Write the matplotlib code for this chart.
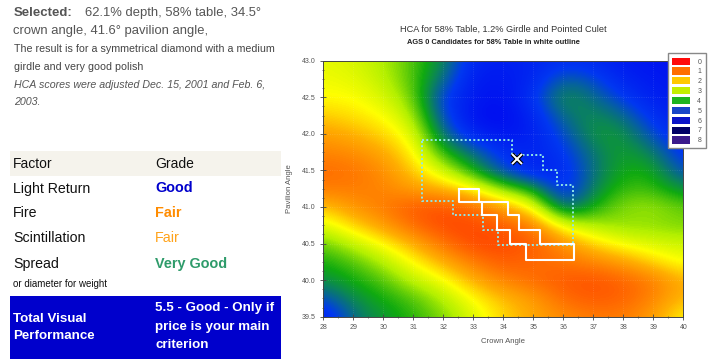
import numpy as np
import matplotlib.pyplot as plt
from matplotlib.colors import LinearSegmentedColormap
from matplotlib.patches import Patch, Rectangle

plt.rcParams['font.family'] = ['Liberation Sans', 'DejaVu Sans']

W, H = 713, 362

# Datos del panel izquierdo
selected_line1 = "62.1% depth, 58% table, 34.5°"
selected_line2 = "crown angle, 41.6° pavilion angle,"
note_lines = ["The result is for a symmetrical diamond with a medium",
              "girdle and very good polish"]
italic_lines = ["HCA scores were adjusted Dec. 15, 2001 and Feb. 6,", "2003."]
factors = ["Light Return", "Fire", "Scintillation", "Spread"]
grades = ["Good", "Fair", "Fair", "Very Good"]
grade_colors = ["#0000CC", "#FF8C00", "#FFA31A", "#2E9B6A"]
grade_weights = ["bold", "bold", "normal", "bold"]
total_label = ["Total Visual", "Performance"]
total_value = ["5.5 - Good - Only if", "price is your main", "criterion"]

# Malla HCA: angulo de corona (columnas) y de pabellon (filas, de 43.0 a 39.5)
crown = np.arange(28, 41, 1)
pavilion = np.arange(43.0, 39.49, -0.25)
hca = np.array([
    [2.8, 2.9, 3.2, 3.7, 4.3, 5.6, 5.7, 5.6, 5.4, 5.5, 5.8, 5.9, 6.0],
    [2.7, 2.8, 3.1, 3.7, 4.6, 5.8, 5.8, 5.6, 4.7, 5.0, 5.6, 5.8, 5.9],
    [2.6, 2.6, 2.9, 3.5, 5.2, 5.8, 6.0, 5.3, 4.2, 4.6, 5.2, 5.7, 5.8],
    [2.2, 2.4, 2.6, 3.2, 5.0, 6.0, 6.1, 5.6, 4.6, 4.3, 4.6, 5.4, 5.7],
    [1.8, 2.0, 2.3, 2.8, 4.6, 5.6, 5.9, 5.7, 5.0, 4.2, 4.2, 5.0, 5.6],
    [1.5, 1.6, 1.9, 2.5, 3.9, 4.6, 5.4, 5.6, 5.3, 4.5, 4.1, 4.4, 5.4],
    [1.2, 1.3, 1.6, 2.2, 3.0, 4.0, 5.0, 5.7, 5.5, 4.6, 4.0, 4.0, 5.0],
    [1.4, 1.4, 1.5, 1.8, 2.0, 2.5, 3.5, 4.0, 5.6, 4.4, 3.8, 3.8, 4.3],
    [2.2, 1.7, 1.4, 1.0, 0.9, 1.2, 1.8, 2.6, 4.8, 4.0, 3.4, 3.3, 3.6],
    [2.9, 2.3, 1.8, 1.2, 0.8, 0.8, 1.0, 1.4, 2.8, 3.2, 3.4, 3.4, 3.5],
    [3.6, 3.1, 2.6, 2.0, 1.3, 0.8, 0.8, 1.0, 1.6, 2.3, 2.7, 2.9, 3.0],
    [4.0, 3.7, 3.2, 2.6, 2.0, 1.4, 1.0, 1.2, 1.3, 1.5, 1.8, 2.3, 2.7],
    [4.3, 4.0, 3.7, 3.1, 2.7, 2.0, 1.5, 1.2, 1.0, 0.9, 1.1, 1.4, 2.0],
    [5.0, 4.3, 4.0, 3.7, 3.2, 2.6, 2.1, 1.8, 1.2, 1.0, 1.1, 1.5, 2.1],
    [5.8, 4.6, 4.2, 3.9, 3.5, 2.9, 2.3, 1.9, 1.6, 1.4, 1.4, 1.8, 2.6],
])

# Contorno blanco (candidatos AGS 0)
white_c = [32.53, 33.19, 33.19, 34.17, 34.17, 34.53, 34.53, 35.22, 35.22, 36.36,
           36.36, 34.76, 34.76, 34.22, 34.22, 33.78, 33.78, 33.28, 33.28, 32.53, 32.53]
white_p = [41.25, 41.25, 41.07, 41.07, 40.89, 40.89, 40.69, 40.69, 40.49, 40.49,
           40.28, 40.28, 40.49, 40.49, 40.69, 40.69, 40.89, 40.89, 41.07, 41.07, 41.25]
# Contorno punteado
dot_c = [31.3, 34.3, 34.3, 35.31, 35.31, 35.78, 35.78, 36.31, 36.31, 33.83,
         33.83, 33.31, 33.31, 32.31, 32.31, 31.3, 31.3]
dot_p = [41.92, 41.92, 41.71, 41.71, 41.50, 41.50, 41.30, 41.30, 40.48, 40.48,
         40.69, 40.69, 40.89, 40.89, 41.08, 41.08, 41.92]
sel_crown, sel_pav = 34.45, 41.65

legend_labels = [str(i) for i in range(9)]
legend_colors = ["#FF0A0A", "#FF6E00", "#FFC800", "#C4EE00", "#1EB41E",
                 "#1846C8", "#0A14C8", "#000066", "#3A1A8C"]

# Escala de color continua
nodes = [(0.0, "#FF0000"), (1.0, "#FF5A00"), (2.0, "#FFB000"), (2.6, "#FFFF00"),
         (3.2, "#B4F000"), (4.0, "#10AA10"), (4.6, "#087080"), (5.2, "#0038F0"),
         (6.0, "#0010F0"), (7.0, "#000070"), (8.0, "#40108C")]
cmap = LinearSegmentedColormap.from_list("hca", [(v / 8, c) for v, c in nodes])


def fx(x):
    return x / W


def fy(y):
    return 1 - y / H


fig = plt.figure(figsize=(W / 100, H / 100), dpi=100)

# Panel de texto
fig.text(fx(14), fy(13), "Selected:", fontsize=9.5, fontweight='bold', color='#555555', va='center')
fig.text(fx(85), fy(13), selected_line1, fontsize=9.4, color='#555555', va='center')
fig.text(fx(13), fy(31), selected_line2, fontsize=9.4, color='#555555', va='center')
for i, s in enumerate(note_lines):
    fig.text(fx(14), fy(48.5 + i * 19), s, fontsize=7.7, color='#444444', va='center')
for i, s in enumerate(italic_lines):
    fig.text(fx(14), fy(85 + i * 17), s, fontsize=7.7, color='#555555', style='italic', va='center')

fig.add_artist(Rectangle((fx(10), fy(176)), fx(271), 25 / H, transform=fig.transFigure,
                         facecolor='#F5F3EC', edgecolor='none'))
fig.text(fx(13), fy(163.5), "Factor", fontsize=10, color='#111111', va='center')
fig.text(fx(155), fy(163.5), "Grade", fontsize=10, color='#111111', va='center')
row_y = [188.5, 213, 238.5, 264]
for i in range(len(factors)):
    fig.text(fx(13), fy(row_y[i]), factors[i], fontsize=10.2, color='#111111', va='center')
    fig.text(fx(155), fy(row_y[i]), grades[i], fontsize=10.4, color=grade_colors[i],
             fontweight=grade_weights[i], va='center')
fig.text(fx(13), fy(284), "or diameter for weight", fontsize=7, color='#111111', va='center')

fig.add_artist(Rectangle((fx(10), fy(359)), fx(271), 63 / H, transform=fig.transFigure,
                         facecolor='#0000CC', edgecolor='none'))
for i, s in enumerate(total_label):
    fig.text(fx(13), fy(318.5 + i * 17.5), s, fontsize=9.6, color='white', fontweight='bold', va='center')
for i, s in enumerate(total_value):
    fig.text(fx(155), fy(308.5 + i * 18.5), s, fontsize=9.6, color='white', fontweight='bold', va='center')

# Mapa HCA
ax = fig.add_axes([fx(323.3), fy(316.7), 360 / W, 256 / H])
ax.imshow(hca, cmap=cmap, vmin=0, vmax=8, interpolation='bicubic', aspect='auto',
          extent=[crown[0] - 0.5, crown[-1] + 0.5, pavilion[-1] - 0.125, pavilion[0] + 0.125])
ax.plot(dot_c, dot_p, color='#8FE6E6', lw=1.4, ls=(0, (1, 1.2)))
ax.plot(white_c, white_p, color='white', lw=1.5)
ax.plot(sel_crown, sel_pav, marker='x', ms=7, mew=3, color='black')
ax.plot(sel_crown, sel_pav, marker='x', ms=7, mew=1.4, color='white')
ax.set_xlim(28, 40)
ax.set_ylim(39.5, 43.0)
ax.set_xticks(np.arange(28, 41, 1))
ax.set_xticks(np.arange(28, 40.1, 0.5), minor=True)
ax.set_yticks(np.arange(39.5, 43.01, 0.5))
ax.set_yticks(np.arange(39.5, 43.01, 0.125), minor=True)
ax.set_yticklabels([f"{v:.1f}" for v in np.arange(39.5, 43.01, 0.5)])
ax.tick_params(which='both', direction='inout', labelsize=5, colors='#444444', labelcolor='#555555')
ax.tick_params(which='major', length=4, width=0.6)
ax.tick_params(which='minor', length=2, width=0.5)
ax.grid(True, color='white', alpha=0.15, lw=0.6, ls=':')
for sp in ax.spines.values():
    sp.set_color('#444444')
    sp.set_linewidth(0.7)
ax.set_xlabel("Crown Angle", fontsize=5.6, color='#555555', labelpad=5)
ax.set_ylabel("Pavilion Angle", fontsize=5.6, color='#555555', labelpad=6)

fig.text(fx(503.5), fy(29), "HCA for 58% Table, 1.2% Girdle and Pointed Culet",
         fontsize=6.6, color='#333333', ha='center', va='center')
fig.text(fx(493), fy(42.5), "AGS 0 Candidates for 58% Table in white outline",
         fontsize=5.4, color='#222222', fontweight='bold', ha='center', va='center')

handles = [Patch(facecolor=c, edgecolor='none') for c in legend_colors]
fig.legend(handles, legend_labels, loc='upper right', bbox_to_anchor=(fx(709), fy(50)),
           fontsize=5, labelcolor='#555555', frameon=True, fancybox=False, edgecolor='#888888',
           handlelength=2.6, handleheight=1.2, labelspacing=0.28, handletextpad=1.1,
           borderpad=0.6, framealpha=1)

fig.savefig("out.png", dpi=100)
